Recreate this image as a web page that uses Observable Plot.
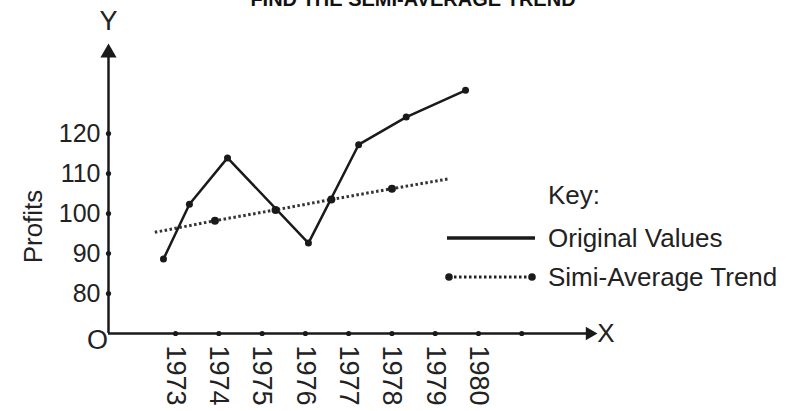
<!DOCTYPE html>
<html>
<head>
<meta charset="utf-8">
<script src="https://cdn.jsdelivr.net/npm/d3@7"></script>
<script src="https://cdn.jsdelivr.net/npm/@observablehq/plot@0.6"></script>
<style>
  body { margin: 0; background: #fff; }
  #wrap { position: relative; width: 792px; height: 411px; overflow: hidden;
          font-family: "Liberation Sans", Arial, sans-serif; color: #222; background: #fff; }
  #title { position: absolute; left: 0; width: 826px; top: -11px; line-height: 20px;
           text-align: center; font-weight: bold; font-size: 20px; color: #111; }
  .key { position: absolute; left: 548px; font-size: 26px; line-height: 26px; white-space: nowrap; color: #222; }
  #legendSvg { position: absolute; left: 0; top: 0; }
  #chart { position: absolute; left: 0; top: 0; }
</style>
</head>
<body>
<div id="wrap">
  <div id="chart"></div>
  <div id="title">FIND THE SEMI-AVERAGE TREND</div>
  <div class="key" style="top:182px">Key:</div>
  <div class="key" style="top:225px">Original Values</div>
  <div class="key" style="top:264px">Simi-Average Trend</div>
  <svg id="legendSvg" width="792" height="411">
    <line x1="447" y1="238" x2="535" y2="238" stroke="#1a1a1a" stroke-width="3.5"/>
    <line x1="449" y1="277" x2="532" y2="277" stroke="#222" stroke-width="3" stroke-dasharray="2.5,2.5"/>
    <circle cx="449" cy="277" r="3.8" fill="#1a1a1a"/>
    <circle cx="532" cy="277" r="3.8" fill="#1a1a1a"/>
  </svg>
</div>
<script>
// Category ticks (years) and y ticks
const years = [1973, 1974, 1975, 1976, 1977, 1978, 1979, 1980];
const extraTicks = [1981];
const yTicks = [80, 90, 100, 110, 120];

// Original values (positions along the year axis as drawn, and profits)
const origPos = [1972.72, 1973.32, 1974.20, 1976.07, 1977.23, 1978.33, 1979.70];
const origVal = [88.6, 102.3, 113.9, 92.6, 117.2, 124.1, 130.8];

// Semi-average trend line
const trendPos = [1972.52, 1973.91, 1975.31, 1976.60, 1978.00, 1979.33];
const trendVal = [95.3, 98.2, 100.9, 103.5, 106.2, 108.7];
const trendMarkPos = [1973.91, 1975.31, 1976.60, 1978.00];
const trendMarkVal = [98.2, 100.9, 103.5, 106.2];

const orig = origPos.map((x, i) => ({x, y: origVal[i]}));
const trend = trendPos.map((x, i) => ({x, y: trendVal[i]}));
const trendMarks = trendMarkPos.map((x, i) => ({x, y: trendMarkVal[i]}));

const X0 = 1971.45, X1 = 1982.75, Y0 = 70, Y1 = 142.5;
const labelY = 96.75;
const ink = "#1a1a1a";

const chart = Plot.plot({
  width: 792,
  height: 411,
  marginLeft: 108,
  marginRight: 195,
  marginTop: 43,
  marginBottom: 78,
  x: {domain: [X0, X1]},
  y: {domain: [Y0, Y1]},
  style: {fontFamily: "'Liberation Sans', Arial, sans-serif", color: "#222", background: "transparent"},
  marks: [
    Plot.axisY(yTicks, {tickSize: 0, tickPadding: 8, fontSize: 25, label: null, tickFormat: d => String(d)}),
    Plot.axisX(years, {tickSize: 0, tickPadding: 12, tickRotate: 90, fontSize: 27, label: null, tickFormat: d => String(d)}),
    Plot.text(["Profits"], {x: X0, y: labelY, rotate: -90, dx: -75, fontSize: 26, fill: "#222"}),
    // axes lines
    Plot.ruleY([Y0], {x1: X0, x2: X1 - 0.2, stroke: ink, strokeWidth: 2.5}),
    Plot.ruleX([X0], {y1: Y0, y2: Y1 - 2, stroke: ink, strokeWidth: 2.5}),
    // arrowheads
    Plot.dot([X1], {x: d => d, y: Y0, symbol: "triangle", rotate: 90, r: 5, fill: ink, stroke: null, dx: -7.8}),
    Plot.dot([Y1], {x: X0, y: d => d, symbol: "triangle", r: 6, fill: ink, stroke: null, dy: 9.3}),
    // tick markers
    Plot.dot(years.concat(extraTicks), {x: d => d, y: Y0, r: 2.6, fill: ink, stroke: null}),
    Plot.dot(yTicks, {x: X0, y: d => d, r: 2.6, fill: ink, stroke: null}),
    // axis letters
    Plot.text(["O"], {x: X0, y: Y0, dx: -11, dy: 7, fontSize: 27, fill: "#222"}),
    Plot.text(["X"], {x: X1, y: Y0, dx: 8.5, fontSize: 26, fill: "#222"}),
    Plot.text(["Y"], {x: X0, y: Y1, dy: -22, fontSize: 27, fill: "#222"}),
    // data
    Plot.line(trend, {x: "x", y: "y", stroke: "#333", strokeWidth: 3, strokeDasharray: "2.5,2.5", strokeLinecap: "butt"}),
    Plot.dot(trendMarks, {x: "x", y: "y", r: 4, fill: ink, stroke: null}),
    Plot.line(orig, {x: "x", y: "y", stroke: ink, strokeWidth: 2.5}),
    Plot.dot(orig, {x: "x", y: "y", r: 3.5, fill: ink, stroke: null})
  ]
});
document.getElementById("chart").appendChild(chart);
</script>
</body>
</html>
